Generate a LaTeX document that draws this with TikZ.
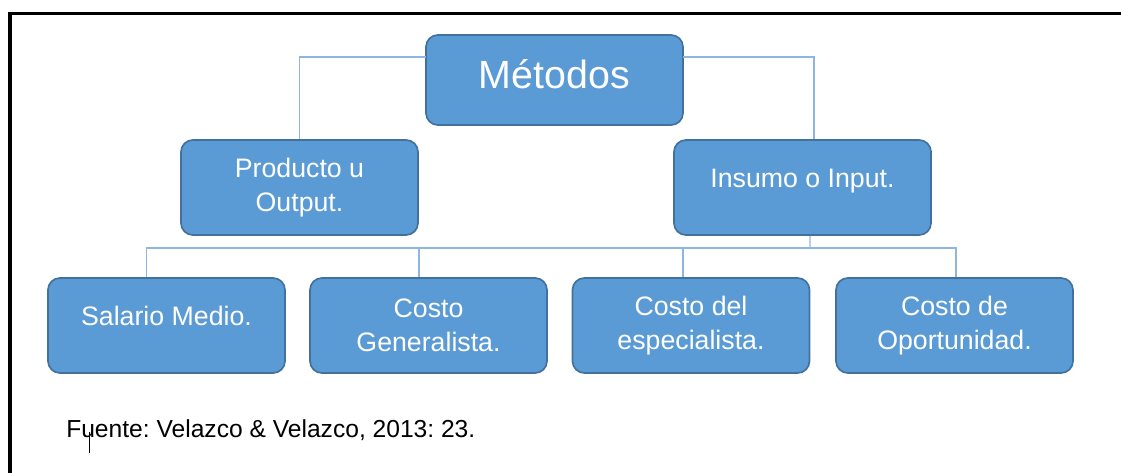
\documentclass[tikz,border=0pt]{standalone}
\usepackage{fontspec}
\setmainfont{Liberation Sans}
\frenchspacing
\definecolor{relleno}{RGB}{91,155,213}
\definecolor{borde}{RGB}{65,113,156}
\definecolor{enlace}{RGB}{143,182,227}

\begin{document}
\begin{tikzpicture}[x=0.025cm,y=-0.025cm,
    caja/.style={draw=borde,line width=1.2pt,fill=relleno,rounded corners=0.3cm,
        text=white,align=center,minimum width=5.925cm,minimum height=2.375cm,
        font=\fontsize{19}{24}\selectfont},
    ancha/.style={minimum width=6.425cm},
    unalinea/.style={text height=14pt,text depth=14pt},
    linea/.style={draw=enlace,line width=0.8pt}]
    \useasboundingbox (0,0) rectangle (1121,473);
    \draw[line width=2.2pt] (10,473) -- (10,13.5) -- (1121,13.5);

    \node[caja,ancha,minimum height=2.25cm,text height=22pt,text depth=10.6pt,
        font=\fontsize{28}{34}\selectfont] (met) at (554.5,80) {Métodos};
    \node[caja] (prod) at (299.5,187.5) {Producto u\\Output.};
    \node[caja,ancha,unalinea] (ins) at (802.5,187.5) {Insumo o Input.};

    \node[caja,unalinea] (sal) at (166.5,325.5) {Salario Medio.};
    \node[caja] (gen) at (428.5,325.5) {Costo\\Generalista.};
    \node[caja] (esp) at (691,325.5) {Costo del\\especialista.};
    \node[caja] (opo) at (954.5,325.5) {Costo de\\Oportunidad.};

    \coordinate (mi) at (426,57);
    \coordinate (md) at (683,57);
    \coordinate (bus) at (810,248);

    \draw[linea] (mi) -| (prod.north);
    \draw[linea] (md) -| ([xshift=0.2875cm]ins.north);
    \draw[linea] ([xshift=0.1875cm]ins.south) -- (bus);
    \draw[linea] (bus) -| ([xshift=-0.5cm]sal.north);
    \draw[linea] (bus) -| ([xshift=-0.2375cm]gen.north);
    \draw[linea] (bus) -| ([xshift=-0.2cm]esp.north);
    \draw[linea] (bus) -| ([xshift=0.0375cm]opo.north);

    \node[anchor=base west,inner sep=0pt,font=\fontsize{17.5}{21}\selectfont]
        (fuente) at (66,437) {Fuente: Velazco \& Velazco, 2013: 23.};
    \draw[line width=0.6pt] (89,432) -- (89,453);
\end{tikzpicture}
\end{document}
